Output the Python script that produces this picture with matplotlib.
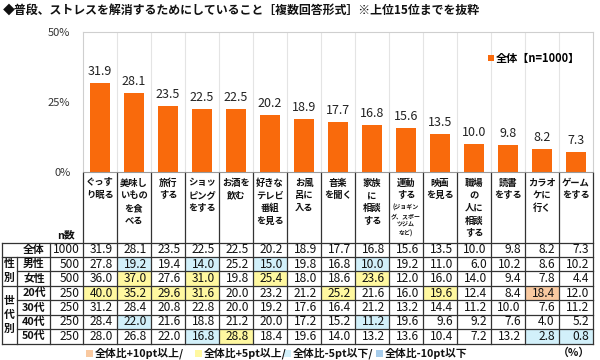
import matplotlib.pyplot as plt
from matplotlib.patches import Rectangle
from matplotlib.transforms import blended_transform_factory
import numpy as np

plt.rcParams['font.family'] = ['Noto Sans CJK JP', 'DejaVu Sans']

# data
categories = [
    ['ぐっす', 'り眠る'],
    ['美味し', 'いもの', 'を食', 'べる'],
    ['旅行', 'する'],
    ['ショッ', 'ピング', 'をする'],
    ['お酒を', '飲む'],
    ['好きな', 'テレビ', '番組', 'を見る'],
    ['お風', '呂に', '入る'],
    ['音楽', 'を聞く'],
    ['家族', 'に', '相談', 'する'],
    ['運動', 'する'],
    ['映画', 'を見る'],
    ['職場', 'の', '人に', '相談', 'する'],
    ['読書', 'をする'],
    ['カラオ', 'ケに', '行く'],
    ['ゲーム', 'をする'],
]
sub_note = ['(ジョギン', 'グ、スポー', 'ツジム', 'など)']   # small text under 運動する
overall = [31.9, 28.1, 23.5, 22.5, 22.5, 20.2, 18.9, 17.7, 16.8, 15.6, 13.5, 10.0, 9.8, 8.2, 7.3]

row_labels = ['全体', '男性', '女性', '20代', '30代', '40代', '50代']
row_n = [1000, 500, 500, 250, 250, 250, 250]
male = [27.8, 19.2, 19.4, 14.0, 25.2, 15.0, 19.8, 16.8, 10.0, 19.2, 11.0, 6.0, 10.2, 8.6, 10.2]
female = [36.0, 37.0, 27.6, 31.0, 19.8, 25.4, 18.0, 18.6, 23.6, 12.0, 16.0, 14.0, 9.4, 7.8, 4.4]
age20 = [40.0, 35.2, 29.6, 31.6, 20.0, 23.2, 21.2, 25.2, 21.6, 16.0, 19.6, 12.4, 8.4, 18.4, 12.0]
age30 = [31.2, 28.4, 20.8, 22.8, 20.0, 19.2, 17.6, 16.4, 21.2, 13.2, 14.4, 11.2, 10.0, 7.6, 11.2]
age40 = [28.4, 22.0, 21.6, 18.8, 21.2, 20.0, 17.2, 15.2, 11.2, 19.6, 9.6, 9.2, 7.6, 4.0, 5.2]
age50 = [28.0, 26.8, 22.0, 16.8, 28.8, 18.4, 19.6, 14.0, 13.2, 13.6, 10.4, 7.2, 13.2, 2.8, 0.8]
table_rows = [overall, male, female, age20, age30, age40, age50]

title = '◆普段、ストレスを解消するためにしていること［複数回答形式］※上位15位までを抜粋'
legend_label = '全体【n=1000】'

BAR = '#F96A0C'
C_P10 = '#F9C9A0'
C_P5 = '#FFF8A0'
C_M5 = '#D2F0FA'
C_M10 = '#A6CCEB'
LINE = '#333333'
TXT = '#111111'


def cell_color(v, base):
    d = v - base
    if d >= 10:
        return C_P10
    if d >= 5:
        return C_P5
    if d <= -10:
        return C_M10
    if d <= -5:
        return C_M5
    return None


fig = plt.figure(figsize=(6, 3.6), dpi=100)

# bar chart
ax = fig.add_axes([83 / 600, 1 - 172 / 360, 510 / 600, 140 / 360])
x = np.arange(len(overall))
ax.vlines(np.arange(0.5, 14.5), 0, 50, color='#e4e4e4', lw=0.8, zorder=0)
ax.bar(x, overall, width=0.56, color=BAR, zorder=2, label=legend_label)
for xi, v in zip(x, overall):
    ax.text(xi, v + 1.8, f'{v:.1f}', ha='center', va='bottom', fontsize=9,
            color='#222222')
ax.set_xlim(-0.5, 14.5)
ax.set_ylim(0, 50)
ax.set_yticks([0, 25, 50])
ax.set_yticklabels(['0%', '25%', '50%'], fontsize=8, color='#333333')
ax.set_xticks([])
ax.tick_params(axis='y', length=0, pad=9)
for s in ['left', 'top', 'right']:
    ax.spines[s].set_color('#cfcfcf')
    ax.spines[s].set_linewidth(0.8)
ax.spines['bottom'].set_color('#999999')
ax.legend(loc='upper right', bbox_to_anchor=(0.995, 0.93), frameon=False,
          handlelength=0.5, handleheight=0.5, handletextpad=0.2,
          prop={'weight': 'bold', 'size': 8})

# overlay in pixel coords
ov = fig.add_axes([0, 0, 1, 1])
ov.set_xlim(0, 600)
ov.set_ylim(360, 0)
ov.axis('off')
tr = blended_transform_factory(ax.transData, ov.transData)

fig.text(3 / 600, 1 - 10 / 360, title, fontsize=8.6, fontweight='bold',
         va='center', ha='left', color=TXT)

head_top = 173
top = 242.5
rh = 14.45
bottom = top + rh * len(table_rows)

# header labels
for i, lines in enumerate(categories):
    for k, s in enumerate(lines):
        ov.text(i, 183 + 12.7 * k, s, transform=tr, ha='center', va='center',
                fontsize=6.7, fontweight='bold', color=TXT)
    if i == 9:
        for k, s in enumerate(sub_note):
            ov.text(i, 207 + 8.8 * k, s, transform=tr, ha='center', va='center',
                    fontsize=4.3, fontweight='bold', color=TXT)

ov.text(66, 235, 'n数', ha='center', va='center', fontsize=7.8,
        fontweight='bold', color=TXT)

# cells
for r, (lab, n, vals) in enumerate(zip(row_labels, row_n, table_rows)):
    yc = top + rh * (r + 0.5)
    for i, v in enumerate(vals):
        if r > 0:
            c = cell_color(v, overall[i])
            if c:
                ov.add_patch(Rectangle((i - 0.5, top + rh * r), 1, rh,
                                       transform=tr, facecolor=c,
                                       edgecolor='none', zorder=0))
        ov.text(i + 0.38, yc, f'{v:.1f}', transform=tr, ha='right',
                va='center', fontsize=8.6, color=TXT)
    ov.text(80, yc, str(n), ha='right', va='center', fontsize=8.6, color=TXT)
    ov.text(34, yc, lab, ha='center', va='center', fontsize=7.8,
            fontweight='bold', color=TXT)

# group labels
for chars, r0, r1 in [('性別', 1, 3), ('世代別', 3, 7)]:
    yc = top + rh * (r0 + r1) / 2
    for k, ch in enumerate(chars):
        ov.text(9, yc + 14 * (k - (len(chars) - 1) / 2), ch, ha='center',
                va='center', fontsize=7.8, fontweight='bold', color=TXT)

# grid lines
lw = 0.9
for b in np.arange(-0.5, 15.0, 1.0):
    ov.plot([b, b], [head_top, bottom], transform=tr, color=LINE, lw=lw)
for xl in [1.5, 50]:
    ov.plot([xl, xl], [top, bottom], color=LINE, lw=lw)
ov.plot([17, 17], [top + rh, bottom], color=LINE, lw=lw)
for k in range(len(table_rows) + 1):
    yk = top + rh * k
    x0 = 17 if k in (2, 4, 5, 6) else 1.5
    ov.plot([x0, 593], [yk, yk], color=LINE, lw=lw)

# bottom legend
leg_items = [(86, C_P10, '全体比+10pt以上/'), (195, C_P5, '全体比+5pt以上/'),
             (284, C_M5, '全体比-5pt以下/'), (376, C_M10, '全体比-10pt以下')]
for lx, c, s in leg_items:
    ov.add_patch(Rectangle((lx, 349.5), 7, 7, facecolor=c, edgecolor='none'))
    ov.text(lx + 9, 353, s, ha='left', va='center', fontsize=7.8,
            fontweight='bold', color=TXT)
ov.text(590, 353, '（%）', ha='right', va='center', fontsize=7.8,
        fontweight='bold', color=TXT)

fig.savefig('out.png', dpi=100)
